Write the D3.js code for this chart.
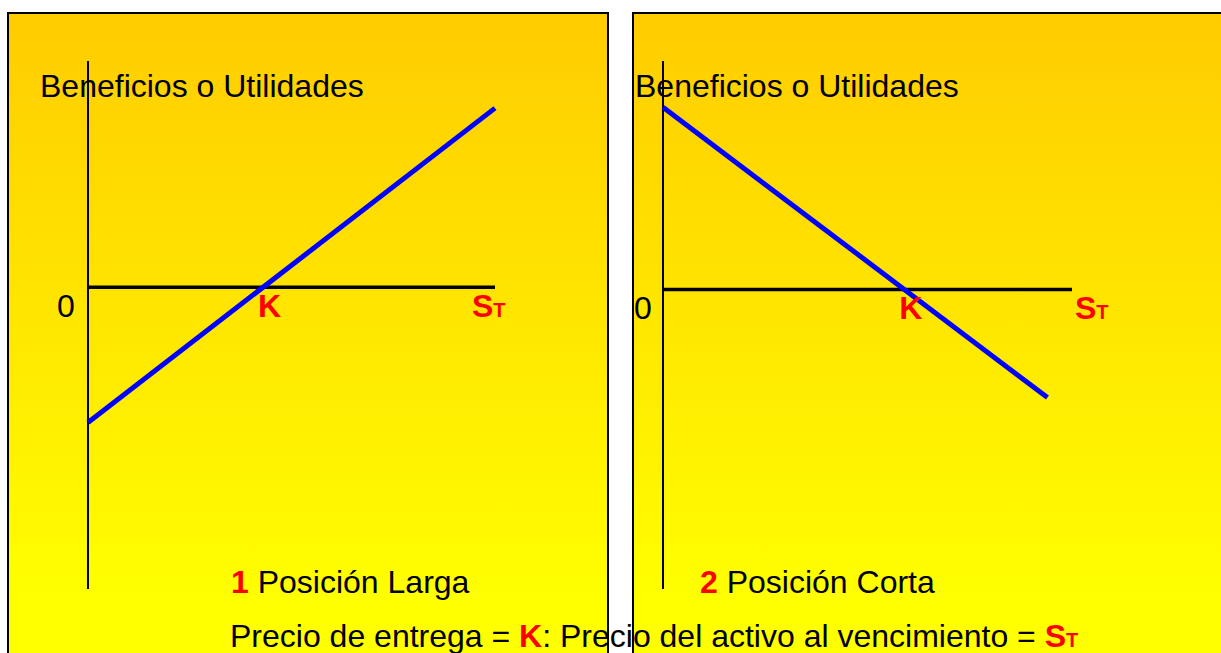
<!DOCTYPE html>
<html>

<head>
  <meta charset="utf-8">
  <title>Posición larga y corta</title>
  <style>
    body { margin: 0; background: #fff; }
    svg { display: block; font-family: "Liberation Sans", Arial, sans-serif; }
  </style>
</head>

<body>
  <div id="graph"></div>

  <script src="https://cdn.jsdelivr.net/npm/d3@7"></script>

  <script>
    // precio del activo al vencimiento (eje x) y beneficio = S - K (o K - S)
    const spotLong = [0, 100];
    const spotShort = [0, 94];
    const strikeLong = 43;
    const strikeShort = 59;
    const axisX = [0, 100];
    const yDomainLong = [-96, 72];
    const yDomainShort = [-97, 74];
    const titles = ["Posición Larga", "Posición Corta"];
    const yLabel = "Beneficios o Utilidades";

    const W = 1221, H = 653;
    const fs = 32, fsSub = 20;

    const svg = d3.select("#graph")
      .append("svg")
      .attr("width", W)
      .attr("height", H);

    const defs = svg.append("defs");
    const grad = defs.append("linearGradient")
      .attr("id", "bg")
      .attr("gradientUnits", "userSpaceOnUse")
      .attr("x1", 0).attr("y1", 13)
      .attr("x2", 0).attr("y2", 600);
    grad.append("stop").attr("offset", "0%").attr("stop-color", "#ffcc00");
    grad.append("stop").attr("offset", "100%").attr("stop-color", "#ffff00");

    const panels = [
      { box: [8, 13, 600, 700], axisLeft: 88, axisRight: 495,
        spot: spotLong, K: strikeLong, yDom: yDomainLong, sign: 1, num: "1",
        titleX: 231, labelX: 40, zeroX: 66, stX: 472 },
      { box: [633, 13, 640, 700], axisLeft: 663, axisRight: 1072,
        spot: spotShort, K: strikeShort, yDom: yDomainShort, sign: -1, num: "2",
        titleX: 700, labelX: 635, zeroX: 643, stX: 1075 }
    ];

    panels.forEach(p => {
      const g = svg.append("g");

      g.append("rect")
        .attr("x", p.box[0])
        .attr("y", p.box[1])
        .attr("width", p.box[2])
        .attr("height", p.box[3])
        .attr("fill", "url(#bg)")
        .attr("stroke", "#000")
        .attr("stroke-width", 2);

      const x = d3.scaleLinear().domain(axisX).range([p.axisLeft, p.axisRight]);
      const y = d3.scaleLinear().domain(p.yDom).range([589, 61]);

      g.append("text")
        .attr("x", p.labelX)
        .attr("y", 97)
        .attr("font-size", fs)
        .text(yLabel);

      // eje vertical
      g.append("line")
        .attr("x1", x(0)).attr("x2", x(0))
        .attr("y1", y(p.yDom[0])).attr("y2", y(p.yDom[1]))
        .attr("stroke", "#000")
        .attr("stroke-width", 2);

      // eje horizontal
      g.append("line")
        .attr("x1", x(axisX[0])).attr("x2", x(axisX[1]))
        .attr("y1", y(0)).attr("y2", y(0))
        .attr("stroke", "#000")
        .attr("stroke-width", 3.5);

      // beneficio
      const line = d3.line()
        .x(d => x(d))
        .y(d => y(p.sign * (d - p.K)));
      g.append("path")
        .datum(p.spot)
        .attr("d", line)
        .attr("fill", "none")
        .attr("stroke", "#0000ff")
        .attr("stroke-width", 5);

      g.append("text")
        .attr("x", p.zeroX)
        .attr("y", y(0) + 30)
        .attr("text-anchor", "middle")
        .attr("font-size", fs)
        .text("0");

      g.append("text")
        .attr("x", x(p.K) - 5)
        .attr("y", y(0) + 30)
        .attr("font-size", fs)
        .attr("font-weight", "bold")
        .attr("fill", "#ff0000")
        .text("K");

      const st = g.append("text")
        .attr("x", p.stX)
        .attr("y", y(0) + 30)
        .attr("font-size", fs)
        .attr("font-weight", "bold")
        .attr("fill", "#ff0000");
      st.append("tspan").text("S");
      st.append("tspan").attr("font-size", fsSub).text("T");

      const t = g.append("text")
        .attr("x", p.titleX)
        .attr("y", 593)
        .attr("font-size", fs);
      t.append("tspan").attr("fill", "#ff0000").attr("font-weight", "bold").text(p.num);
      t.append("tspan").text(" " + titles[p.num - 1]);
    });

    const foot = svg.append("text")
      .attr("x", 230)
      .attr("y", 647)
      .attr("font-size", fs);
    foot.append("tspan").text("Precio de entrega = ");
    foot.append("tspan").attr("fill", "#ff0000").attr("font-weight", "bold").text("K");
    foot.append("tspan").text(": Precio del activo al vencimiento = ");
    foot.append("tspan").attr("fill", "#ff0000").attr("font-weight", "bold").text("S");
    foot.append("tspan").attr("fill", "#ff0000").attr("font-weight", "bold").attr("font-size", fsSub).text("T");
  </script>

</body>

</html>
